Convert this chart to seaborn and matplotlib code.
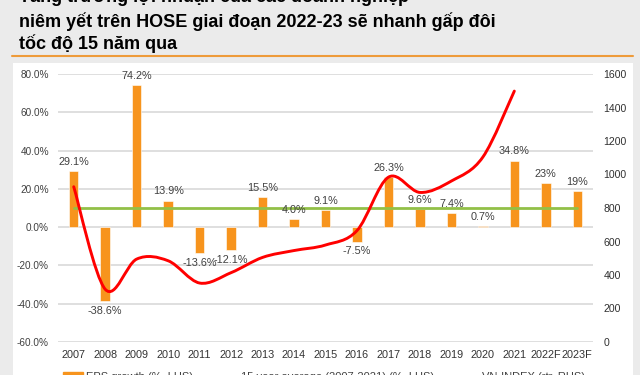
import numpy as np
import pandas as pd
import matplotlib
matplotlib.use("Agg")
import matplotlib.pyplot as plt
from matplotlib.path import Path
from matplotlib.patches import PathPatch, Rectangle
from matplotlib.lines import Line2D
from matplotlib.patches import Patch
import seaborn as sns

# Data
years = ["2007", "2008", "2009", "2010", "2011", "2012", "2013", "2014", "2015",
         "2016", "2017", "2018", "2019", "2020", "2021", "2022F", "2023F"]
eps_growth = [29.1, -38.6, 74.2, 13.9, -13.6, -12.1, 15.5, 4.0, 9.1,
              -7.5, 26.3, 9.6, 7.4, 0.7, 34.8, 23.0, 19.0]
eps_labels = ["29.1%", "-38.6%", "74.2%", "13.9%", "-13.6%", "-12.1%", "15.5%", "4.0%", "9.1%",
              "-7.5%", "26.3%", "9.6%", "7.4%", "0.7%", "34.8%", "23%", "19%"]
avg_15y = [10.2] * len(years)
vn_index = [927, 315, 495, 485, 352, 414, 505, 546, 579,
            665, 984, 893, 961, 1104, 1498]

title_lines = ["Tăng trưởng lợi nhuận của các doanh nghiệp",
               "niêm yết trên HOSE giai đoạn 2022-23 sẽ nhanh gấp đôi",
               "tốc độ 15 năm qua"]
title_y = [-2, 22, 43.5]  # pixel centres from the top

ORANGE = "#F7941D"
GREEN = "#92C047"
RED = "#FF0000"
GRID = "#D9D9D9"
TXT = "#404040"

sns.set_style("white")
plt.rcParams["font.family"] = ["Liberation Sans", "DejaVu Sans"]

fig = plt.figure(figsize=(6.4, 3.75), dpi=100, facecolor="#EBEBEB")

# white slide panel and orange rule under the title
fig.patches.append(Rectangle((13 / 640, 0), 620 / 640, 312 / 375, transform=fig.transFigure,
                             facecolor="white", edgecolor="none", zorder=-10))
fig.add_artist(Line2D([12 / 640, 633 / 640], [1 - 56 / 375] * 2, transform=fig.transFigure,
                      color="#EE9B3A", lw=1.5))

for line, ty in zip(title_lines, title_y):
    fig.text(19 / 640, 1 - ty / 375, line, fontsize=13, fontweight="bold",
             color="black", va="center", ha="left")

ax = fig.add_axes([58 / 640, 33 / 375, 535 / 640, 268 / 375])
ax.set_facecolor("none")

x = np.arange(len(years))
df = pd.DataFrame({"year": years, "eps": eps_growth})
sns.barplot(data=df, x="year", y="eps", color=ORANGE, saturation=1, width=0.3, ax=ax,
            edgecolor="white", linewidth=0.4, zorder=3)
sns.lineplot(x=x, y=avg_15y, color=GREEN, lw=2, ax=ax, zorder=4)

for xi, v, lab in zip(x, eps_growth, eps_labels):
    if v >= 0:
        ax.annotate(lab, (xi, v), xytext=(0, 3), textcoords="offset points",
                    ha="center", va="bottom", fontsize=7.8, color=TXT, zorder=6)
    else:
        ax.annotate(lab, (xi, v), xytext=(0, -3.5), textcoords="offset points",
                    ha="center", va="top", fontsize=7.8, color=TXT, zorder=6)

ax.set_ylim(-60, 80)
ax.set_xlim(-0.5, len(years) - 0.5)
ax.set_yticks(np.arange(-60, 81, 20))
ax.set_yticklabels([f"{t:.1f}%" for t in np.arange(-60, 81, 20)])
ax.yaxis.grid(True, color=GRID, lw=1.2, zorder=0)
ax.set_axisbelow(True)
ax.set_xlabel("")
ax.set_ylabel("")
ax.tick_params(axis="y", length=0, pad=6.5, labelsize=7.2, labelcolor=TXT)
ax.tick_params(axis="x", length=0, pad=6, labelsize=7.8, labelcolor="#333333")
for s in ax.spines.values():
    s.set_visible(False)

# VN-INDEX on right axis, smoothed like the original (Catmull-Rom as Bezier)
ax2 = ax.twinx()
ax2.set_ylim(0, 1600)
ax2.set_yticks(np.arange(0, 1601, 200))
ax2.tick_params(axis="y", length=0, pad=7.5, labelsize=7.6, labelcolor="#303030")
for s in ax2.spines.values():
    s.set_visible(False)
pts = np.column_stack([x[:len(vn_index)], vn_index]).astype(float)
verts = [tuple(pts[0])]
codes = [Path.MOVETO]
for i in range(len(pts) - 1):
    p0 = pts[max(i - 1, 0)]
    p1 = pts[i]
    p2 = pts[i + 1]
    p3 = pts[min(i + 2, len(pts) - 1)]
    c1 = p1 + (p2 - p0) / 6
    c2 = p2 - (p3 - p1) / 6
    verts += [tuple(c1), tuple(c2), tuple(p2)]
    codes += [Path.CURVE4] * 3
ax2.add_patch(PathPatch(Path(verts, codes), facecolor="none", edgecolor=RED, lw=2.1,
                        capstyle="round", zorder=5))

handles = [Patch(color=ORANGE, label="EPS growth (%, LHS)"),
           Line2D([], [], color=GREEN, lw=2, label="15 year average (2007-2021) (%, LHS)"),
           Line2D([], [], color=RED, lw=2, label="VN-INDEX (rtr, RHS)")]
fig.legend(handles=handles, loc="center", bbox_to_anchor=(324 / 640, -2 / 375), ncol=3,
           frameon=False, fontsize=8, handlelength=1.8, handletextpad=0.3,
           columnspacing=2.2, labelcolor=TXT)

fig.savefig("out.png", dpi=100, facecolor=fig.get_facecolor())
